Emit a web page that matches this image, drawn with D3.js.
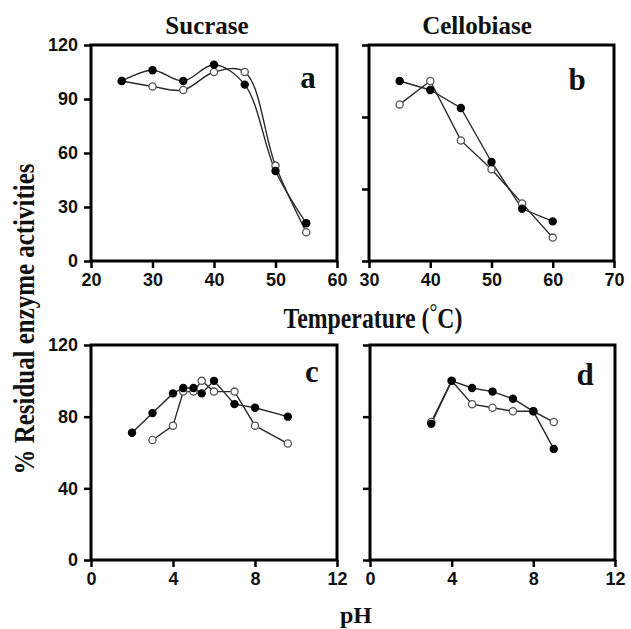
<!DOCTYPE html>
<html>
<head>
<meta charset="utf-8">
<title>Residual enzyme activities</title>
<script src="https://cdn.jsdelivr.net/npm/d3@7"></script>
<style>
  body { margin: 0; background: #fff; }
  svg { display: block; }
  .tick text { font-family: "Liberation Sans", Arial, sans-serif; font-weight: bold; font-size: 18px; fill: #111; }
  .tick line { stroke: #000; stroke-width: 2.5px; }
  .lab { font-family: "Liberation Serif", "Times New Roman", serif; font-weight: bold; fill: #111; }
</style>
</head>
<body>
<svg id="chart" width="631" height="629"></svg>
<script>
// ---- data ----
// temperature (°C)
var sucTemp = [25, 30, 35, 40, 45, 50, 55];
var sucTempFilled = [100, 106, 100, 109, 98, 50, 21];
var sucTempOpen = [100, 97, 95, 105, 105, 53, 16];

var celTemp = [35, 40, 45, 50, 55, 60];
var celTempFilled = [100, 95, 85, 55, 29, 22];
var celTempOpen = [87, 100, 67, 51, 32, 13];

// pH
var sucPhFilledX = [2, 3, 4, 4.5, 5, 5.4, 6, 7, 8, 9.6];
var sucPhFilled = [71, 82, 93, 96, 96, 93, 100, 87, 85, 80];
var sucPhOpenX = [3, 4, 4.5, 5, 5.4, 6, 7, 8, 9.6];
var sucPhOpen = [67, 75, 94, 94, 100, 94, 94, 75, 65];

var celPh = [3, 4, 5, 6, 7, 8, 9];
var celPhFilled = [76, 100, 96, 94, 90, 83, 62];
var celPhOpen = [77, 100, 87, 85, 83, 83, 77];

// ticks
var tempTicksA = [20, 30, 40, 50, 60];
var tempTicksB = [30, 40, 50, 60, 70];
var actTicksA = [0, 30, 60, 90, 120];
var actTicks = [0, 40, 80, 120];
var phTicks = [0, 4, 8, 12];

var svg = d3.select("#chart");

function zip(xs, ys) {
    return xs.map(function(x, i) { return [x, ys[i]]; });
}

// one panel: box, ticks, two series
function panel(p) {
    var x = d3.scaleLinear().domain(p.xDomain).range([p.left, p.right]);
    var y = d3.scaleLinear().domain([0, 120]).range([p.bottom, p.top]);
    var g = svg.append("g");

    var xAxis = d3.axisBottom(x).tickValues(p.xTicks).tickSize(7).tickSizeOuter(0).tickPadding(5);
    var yAxis = d3.axisLeft(y).tickValues(p.yTicks).tickSize(7).tickSizeOuter(0).tickPadding(6);
    if (!p.yLabels) yAxis.tickFormat("");

    g.append("g").attr("transform", "translate(0," + p.bottom + ")").call(xAxis)
        .call(function(a) { a.select(".domain").remove(); });
    g.append("g").attr("transform", "translate(" + p.left + ",0)").call(yAxis)
        .call(function(a) { a.select(".domain").remove(); });

    g.append("rect")
        .attr("x", p.left).attr("y", p.top)
        .attr("width", p.right - p.left).attr("height", p.bottom - p.top)
        .attr("fill", "none").attr("stroke", "#000").attr("stroke-width", 3);

    var line = d3.line()
        .x(function(d) { return x(d[0]); })
        .y(function(d) { return y(d[1]); })
        .curve(p.smooth ? d3.curveCatmullRom.alpha(0.5) : d3.curveLinear);

    [p.open, p.filled].forEach(function(s) {
        g.append("path").datum(s)
            .attr("d", line)
            .attr("fill", "none")
            .attr("stroke", "#2a2a2a")
            .attr("stroke-width", 1.4);
    });

    g.selectAll("circle.open").data(p.open).enter().append("circle")
        .attr("class", "open")
        .attr("cx", function(d) { return x(d[0]); })
        .attr("cy", function(d) { return y(d[1]); })
        .attr("r", 3.6)
        .attr("fill", "#fff").attr("stroke", "#555").attr("stroke-width", 1.3);

    g.selectAll("circle.filled").data(p.filled).enter().append("circle")
        .attr("class", "filled")
        .attr("cx", function(d) { return x(d[0]); })
        .attr("cy", function(d) { return y(d[1]); })
        .attr("r", 4.2)
        .attr("fill", "#000");

    g.append("text").attr("class", "lab")
        .attr("x", p.letterX).attr("y", p.letterY)
        .attr("text-anchor", "middle")
        .style("font-size", "31px")
        .text(p.letter);
}

panel({
    left: 91, right: 337, top: 45, bottom: 261,
    xDomain: [20, 60], xTicks: tempTicksA, yTicks: actTicksA, yLabels: true,
    filled: zip(sucTemp, sucTempFilled), open: zip(sucTemp, sucTempOpen),
    smooth: true, letter: "a", letterX: 308, letterY: 88
});
panel({
    left: 369, right: 614, top: 45, bottom: 261,
    xDomain: [30, 70], xTicks: tempTicksB, yTicks: actTicks, yLabels: false,
    filled: zip(celTemp, celTempFilled), open: zip(celTemp, celTempOpen),
    smooth: false, letter: "b", letterX: 577, letterY: 90
});
panel({
    left: 91, right: 337, top: 345, bottom: 560,
    xDomain: [0, 12], xTicks: phTicks, yTicks: actTicks, yLabels: true,
    filled: zip(sucPhFilledX, sucPhFilled), open: zip(sucPhOpenX, sucPhOpen),
    smooth: false, letter: "c", letterX: 312, letterY: 382
});
panel({
    left: 370, right: 615, top: 345, bottom: 560,
    xDomain: [0, 12], xTicks: phTicks, yTicks: actTicks, yLabels: false,
    filled: zip(celPh, celPhFilled), open: zip(celPh, celPhOpen),
    smooth: false, letter: "d", letterX: 585, letterY: 385
});

// titles and axis labels
svg.append("text").attr("class", "lab")
    .attr("x", 207).attr("y", 34).attr("text-anchor", "middle")
    .style("font-size", "25px").text("Sucrase");
svg.append("text").attr("class", "lab")
    .attr("x", 477).attr("y", 34).attr("text-anchor", "middle")
    .style("font-size", "25px").text("Cellobiase");

var temp = svg.append("text").attr("class", "lab")
    .attr("transform", "translate(373,328) scale(0.82,1)")
    .attr("text-anchor", "middle")
    .style("font-size", "29px");
temp.append("tspan").text("Temperature (");
temp.append("tspan").attr("dy", -8).style("font-size", "24px").style("font-weight", "normal").text("°");
temp.append("tspan").attr("dy", 8).text("C)");

svg.append("text").attr("class", "lab")
    .attr("transform", "translate(356,623)")
    .attr("text-anchor", "middle")
    .style("font-size", "24px").text("pH");

svg.append("text").attr("class", "lab")
    .attr("transform", "translate(34,319) rotate(-90) scale(0.86,1)")
    .attr("text-anchor", "middle")
    .style("font-size", "29px")
    .text("% Residual enzyme activities");
</script>
</body>
</html>
